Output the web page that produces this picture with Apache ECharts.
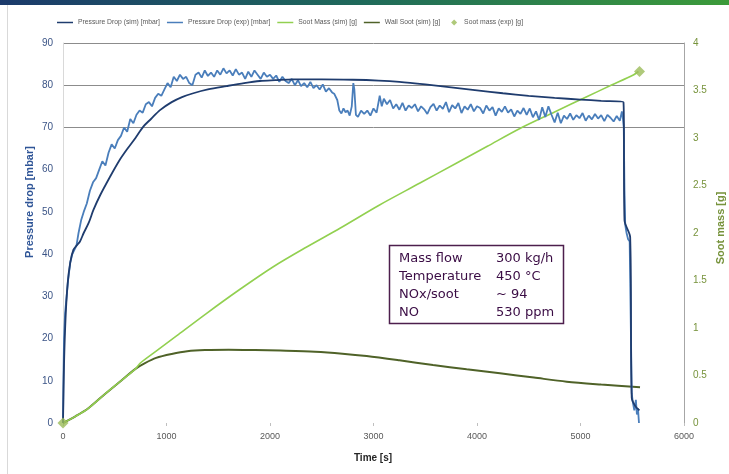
<!DOCTYPE html>
<html><head><meta charset="utf-8">
<script src="https://cdn.jsdelivr.net/npm/echarts@6/dist/echarts.min.js"></script>
<style>html,body{margin:0;padding:0;background:#fff}#c{width:729px;height:474px}</style>
</head><body><div id="c"></div>
<script>
// ---- data ----
const xTicks = [0,1000,2000,3000,4000,5000,6000];
const simPTime = [0,10,25,45,70,100,130,164,200,250,293,360,454,540,615,700,776,850,937,1050,1150,1259,1400,1581,1750,1903,2050,2225,2500,2800,3050,3250,3500,3750,4000,4250,4500,4750,5000,5200,5415,5425,5480,5495,5530,5570];
const simP     = [0,14,25,33,38,41,42,43,45,47.5,50.4,54,58.3,62,64.7,67.5,70.2,72,74.1,76,77.2,78.1,79,79.8,80.5,81,81.2,81.4,81.4,81.3,81.1,80.8,80.2,79.5,78.8,78.1,77.5,77,76.6,76.3,76,48,44,6,4,3];
const expPTime = [0,5,10,20,35,50,70,90,110,130,150,175,200,230,260,290,320,350,380,410,440,470,500,530,560,590,620,650,680,710,740,770,800,830,860,890,920,950,980,1010,1040,1070,1100,1130,1160,1190,1220,1250,1280,1310,1340,1370,1400,1430,1460,1490,1520,1550,1580,1610,1640,1670,1700,1730,1760,1790,1820,1850,1880,1910,1940,1970,2000,2030,2060,2090,2120,2150,2180,2210,2240,2270,2300,2330,2360,2390,2420,2450,2480,2510,2540,2570,2600,2620,2650,2670,2690,2710,2730,2750,2770,2790,2805,2815,2830,2850,2880,2910,2940,2970,3000,3030,3060,3080,3100,3130,3160,3190,3220,3250,3280,3310,3340,3370,3400,3430,3460,3490,3520,3550,3580,3610,3640,3670,3700,3730,3760,3790,3820,3850,3880,3910,3940,3970,4000,4030,4060,4090,4120,4150,4180,4210,4240,4270,4300,4330,4360,4390,4420,4450,4480,4510,4540,4570,4600,4630,4660,4690,4720,4750,4780,4810,4840,4870,4900,4930,4960,4990,5020,5050,5080,5110,5140,5170,5200,5230,5260,5290,5320,5350,5380,5400,5410,5418,5425,5432,5445,5460,5475,5485,5495,5505,5520,5535,5545,5555,5565];
const expP     = [0,12,20,26,30,34,38,40,41,42,45,48,50,52,55,57,58,60,62,61,64,66,65,67,68,70,69,72,71,73,74,73.5,75.5,76,75,77,78,77.5,79,80.5,79.5,82,81,82.5,81.5,82,80.5,80,82.5,83,81.8,83.5,82.2,83,82,83.5,82.5,84,82.8,83.5,82.3,83.8,82.5,83,81.5,83.2,82,83.5,82.5,81.5,83,82,82.5,81.5,82.3,80.8,82,81,80.5,81.5,80,81.2,79.8,80.5,79.5,80.8,79.3,80,79,80.2,78.5,79.3,78.3,78,76.5,74,73.3,74.5,73.6,74,72.8,75,80.5,79,73,72.5,74,73.2,74,72.8,74.5,73.5,77.5,75,76.8,75.5,76.5,74.5,75.5,74.2,75.8,74,75.2,74.6,75.5,73.8,75,74.3,73.2,74.8,75.6,74,75.2,74.4,76,73.6,75.3,74.5,75.8,73.4,75,74.2,75.5,73.8,75,74.6,73.3,75.2,74,74.8,72.8,74.5,73.7,75,73.5,74.3,72.6,74,73.2,74.6,73,74.5,72.4,73.8,71.8,74.8,72.5,75,73,71.2,73.5,71,72.8,72,73.3,71.8,72.9,72.2,73.4,71.6,72.8,71.9,73.2,72.1,72.9,71.5,73,72.3,71.4,72.7,71.6,73.8,72,70,55,47,45,43.5,43,43,7,5,3,5.5,2,3.5,0];
const sootTime = [0,120,245,400,567,700,744,900,1100,1388,1700,2032,2350,2676,3050,3449,3800,4100,4415,4750,5060,5300,5510,5560];
const sootMass = [0,0.07,0.155,0.3,0.45,0.57,0.628,0.756,0.92,1.155,1.40,1.645,1.85,2.05,2.29,2.526,2.735,2.913,3.10,3.274,3.435,3.557,3.663,3.70];
const wallTime = [0,120,245,400,567,700,792,900,1050,1200,1372,1600,1855,2100,2435,2700,2934,3250,3575,3900,4222,4550,4866,5200,5575];
const wallSoot = [0,0.07,0.155,0.3,0.45,0.57,0.63,0.685,0.726,0.755,0.768,0.772,0.768,0.762,0.75,0.73,0.705,0.66,0.61,0.565,0.523,0.478,0.435,0.405,0.376];
const expSootTime = [0,5570];
const expSoot = [0,3.7];
const infoLabels = ['Mass flow','Temperature','NOx/soot','NO'];
const infoValues = ['300 kg/h','450 °C','~ 94','530 ppm'];
const names = ['Pressure Drop (sim) [mbar]','Pressure Drop (exp) [mbar]','Soot Mass (sim) [g]','Wall Soot (sim) [g]','Soot mass (exp) [g]'];
const colors = ['#1f3c6e','#4a7ebb','#92d050','#4f6228','#9bbb59'];

const zip = (a,b)=>a.map((t,i)=>[t,b[i]]);
const FONT = 'Liberation Sans, Arial, sans-serif';
const LFS = 6.8;
const legendText = {fontSize:LFS, color:'#595959', fontFamily:FONT};
// measure legend text to lay items side by side
const ctx = document.createElement('canvas').getContext('2d');
ctx.font = LFS + 'px ' + FONT;
let lx = 52;
const legends = names.map((n,i)=>{
  const isD = i===4;
  const iw = isD ? 6 : 16;
  const l = {
    left: isD ? lx + 4 : lx, top: 14, itemGap: 4,
    itemWidth: iw, itemHeight: isD ? 6 : 1.5,
    textStyle: Object.assign({padding:[0,0,0, isD?2:0]}, legendText), selectedMode:false,
    data: [{name:n, icon: isD ? 'diamond' : 'rect'}]
  };
  lx += iw + (isD?4:0) + 5 + ctx.measureText(n).width + 7;
  return l;
});

const gridColors = ['rgba(0,0,0,0)','rgba(0,0,0,0)','rgba(0,0,0,0)','rgba(0,0,0,0)','rgba(0,0,0,0)','rgba(0,0,0,0)','rgba(0,0,0,0)','#8c8c8c','#8c8c8c','#8c8c8c'];

const chart = echarts.init(document.getElementById('c'), null, {renderer:'canvas'});
const graphics = [
  {type:'rect', shape:{x:0,y:0,width:729,height:5}, style:{fill:new echarts.graphic.LinearGradient(0,0,1,0,[{offset:0,color:'#1b3a6b'},{offset:0.5,color:'#1f6a5a'},{offset:1,color:'#3c9b3a'}])}, silent:true},
  {type:'rect', shape:{x:7,y:5,width:1,height:469}, style:{fill:'#d9d9d9'}, silent:true},
  {type:'text', x:30, y:202, rotation:Math.PI/2, style:{text:'Pressure drop [mbar]', fill:'#2f5597', font:'bold 11px '+FONT, textAlign:'center', textVerticalAlign:'middle'}},
  {type:'text', x:721, y:228, rotation:Math.PI/2, style:{text:'Soot mass [g]', fill:'#77933c', font:'bold 11px '+FONT, textAlign:'center', textVerticalAlign:'middle'}},
  {type:'text', x:373, y:458, style:{text:'Time [s]', fill:'#262626', font:'bold 10px '+FONT, textAlign:'center', textVerticalAlign:'middle'}},
  {type:'rect', shape:{x:389.5,y:245.5,width:174,height:78}, style:{fill:'#fff', stroke:'#4d1f4d', lineWidth:1.5}, z:100}
];
infoLabels.forEach((t,i)=>{
  graphics.push({type:'text', x:399, y:259+i*17.8, z:101, style:{text:t, fill:'#3a0c44', font:'13px DejaVu Sans, Verdana, sans-serif', textVerticalAlign:'middle'}});
  graphics.push({type:'text', x:496, y:259+i*17.8, z:101, style:{text:infoValues[i], fill:'#3a0c44', font:'13px DejaVu Sans, Verdana, sans-serif', textVerticalAlign:'middle'}});
});

chart.setOption({
  animation:false,
  backgroundColor:'#fff',
  legend: legends,
  grid:{left:63, right:45, top:43, bottom:51, containLabel:false},
  xAxis:{type:'value', min:0, max:6000, interval:1000,
    axisLine:{show:false}, axisTick:{show:true, length:3, lineStyle:{color:'#bfbfbf'}},
    splitLine:{show:false},
    axisLabel:{color:'#595959', fontSize:9, fontFamily:FONT, margin:9, formatter:v=>String(v)}},
  yAxis:[
    {type:'value', min:0, max:90, interval:10,
      axisLine:{show:true, lineStyle:{color:'#d9d9d9'}}, axisTick:{show:false},
      splitLine:{show:true, lineStyle:{color:gridColors, width:1}},
      axisLabel:{color:'#3b5486', fontSize:10, fontFamily:FONT, margin:10}},
    {type:'value', min:0, max:4, interval:0.5, position:'right',
      axisLine:{show:true, lineStyle:{color:'#a6a6a6'}}, axisTick:{show:false},
      splitLine:{show:false},
      axisLabel:{color:'#77933c', fontSize:10, fontFamily:FONT, margin:9}}
  ],
  series:[
    {name:names[3], type:'line', yAxisIndex:1, data:zip(wallTime,wallSoot), symbol:'none', smooth:0.3, lineStyle:{color:colors[3], width:2}, itemStyle:{color:colors[3]}, z:2},
    {name:names[2], type:'line', yAxisIndex:1, data:zip(sootTime,sootMass), symbol:'none', smooth:0.3, lineStyle:{color:colors[2], width:1.6}, itemStyle:{color:colors[2]}, z:3},
    {name:names[1], type:'line', yAxisIndex:0, data:zip(expPTime,expP), symbol:'none', lineStyle:{color:colors[1], width:1.8}, itemStyle:{color:colors[1]}, z:4},
    {name:names[0], type:'line', yAxisIndex:0, data:zip(simPTime,simP), symbol:'none', smooth:0.3, lineStyle:{color:colors[0], width:1.8}, itemStyle:{color:colors[0]}, z:5},
    {name:names[4], type:'scatter', yAxisIndex:1, data:zip(expSootTime,expSoot), symbol:'diamond', symbolSize:11, itemStyle:{color:colors[4]}, z:6}
  ],
  graphic: graphics
});
</script></body></html>
